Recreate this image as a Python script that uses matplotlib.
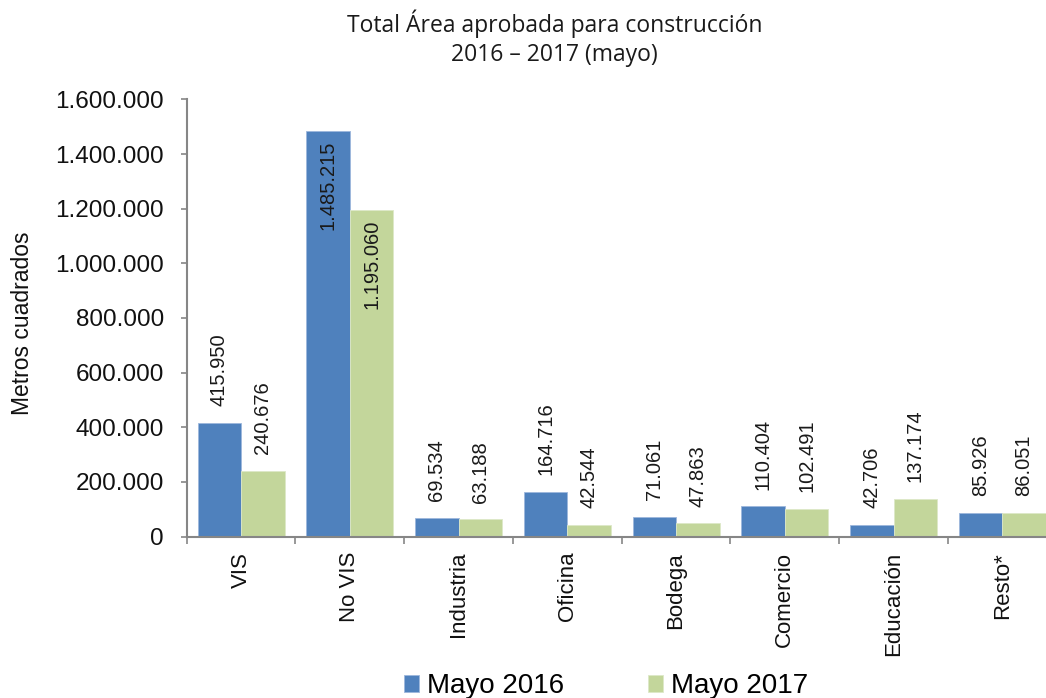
import matplotlib
matplotlib.use("Agg")
import matplotlib.pyplot as plt
import numpy as np

categories = ["VIS", "No VIS", "Industria", "Oficina", "Bodega", "Comercio", "Educación", "Resto*"]
mayo_2016 = [415950, 1485215, 69534, 164716, 71061, 110404, 42706, 85926]
mayo_2017 = [240676, 1195060, 63188, 42544, 47863, 102491, 137174, 86051]
series_names = ["Mayo 2016", "Mayo 2017"]
y_ticks = [0, 200000, 400000, 600000, 800000, 1000000, 1200000, 1400000, 1600000]
y_tick_labels = ["0", "200.000", "400.000", "600.000", "800.000", "1.000.000",
                 "1.200.000", "1.400.000", "1.600.000"]
title_text = "Total Área aprobada para construcción\n2016 – 2017 (mayo)"
y_label = "Metros cuadrados"

BLUE = "#4F81BD"
GREEN = "#C3D69B"
AXIS_GRAY = "#868686"
FONT = ["Liberation Sans", "DejaVu Sans"]

plt.rcParams["font.family"] = FONT

W, H = 1046, 698
fig = plt.figure(figsize=(W / 100, H / 100), dpi=100)
left_px, right_px, top_px, bottom_px = 186.7, 1056.7, 99.5, 536.5
ax = fig.add_axes([left_px / W, 1 - bottom_px / H,
                   (right_px - left_px) / W, (bottom_px - top_px) / H])

x = np.arange(len(categories))
bw = 0.4
b1 = ax.bar(x - bw / 2, mayo_2016, width=bw, color=BLUE, edgecolor="#9DB7DC",
            linewidth=0.6, label=series_names[0], zorder=2)
b2 = ax.bar(x + bw / 2, mayo_2017, width=bw, color=GREEN, edgecolor="#DDE8C8",
            linewidth=0.6, label=series_names[1], zorder=2)

ymax = 1600000
ax.set_ylim(0, ymax)
ax.set_xlim(-0.5, len(categories) - 0.5)

def fmt(v):
    return f"{v:,}".replace(",", ".")

for bars, vals in ((b1, mayo_2016), (b2, mayo_2017)):
    for rect, v in zip(bars, vals):
        cx = rect.get_x() + rect.get_width() / 2
        if v > 0.7 * ymax:
            ax.annotate(fmt(v), (cx, v), xytext=(0, -7), textcoords="offset points",
                        rotation=90, ha="center", va="top", fontsize=14.5, color="#1a1a1a")
        else:
            ax.annotate(fmt(v), (cx, v), xytext=(0, 12), textcoords="offset points",
                        rotation=90, ha="center", va="bottom", fontsize=14.5, color="#1a1a1a")

# axes styling
for s in ("top", "right"):
    ax.spines[s].set_visible(False)
for s in ("left", "bottom"):
    ax.spines[s].set_color(AXIS_GRAY)
    ax.spines[s].set_linewidth(1.5)

ax.set_yticks(y_ticks)
ax.set_yticklabels(y_tick_labels, fontsize=17.5, color="#111111")
ax.tick_params(axis="y", direction="out", length=4.5, width=1.2, color=AXIS_GRAY, pad=12)

ax.set_xticks(x)
ax.set_xticklabels(categories, rotation=90, fontsize=16, color="#111111")
ax.tick_params(axis="x", which="major", length=0, pad=11)
ax.set_xticks(np.arange(len(categories) + 1) - 0.5, minor=True)
ax.tick_params(axis="x", which="minor", direction="out", length=5, width=1.2, color=AXIS_GRAY)

ax.set_ylabel(y_label, fontsize=16.5, color="#111111")
ax.yaxis.set_label_coords((23 - left_px) / (right_px - left_px), (bottom_px - 323) / (bottom_px - top_px))
ax.yaxis.label.set_va("center")

fig.text(0.530, 1 - 9 / H, title_text, ha="center", va="top", fontsize=16.5,
         family=["Open Sans", "DejaVu Sans"], color="#1a1a1a", linespacing=1.3)

leg = fig.legend(handles=[b1, b2], labels=series_names, loc="center",
                 bbox_to_anchor=(606 / W, 1 - 686 / H), ncol=2, frameon=False,
                 fontsize=20, handlelength=0.55, handleheight=0.55,
                 handletextpad=0.3, columnspacing=3.0)

fig.savefig("out.png", dpi=100)
